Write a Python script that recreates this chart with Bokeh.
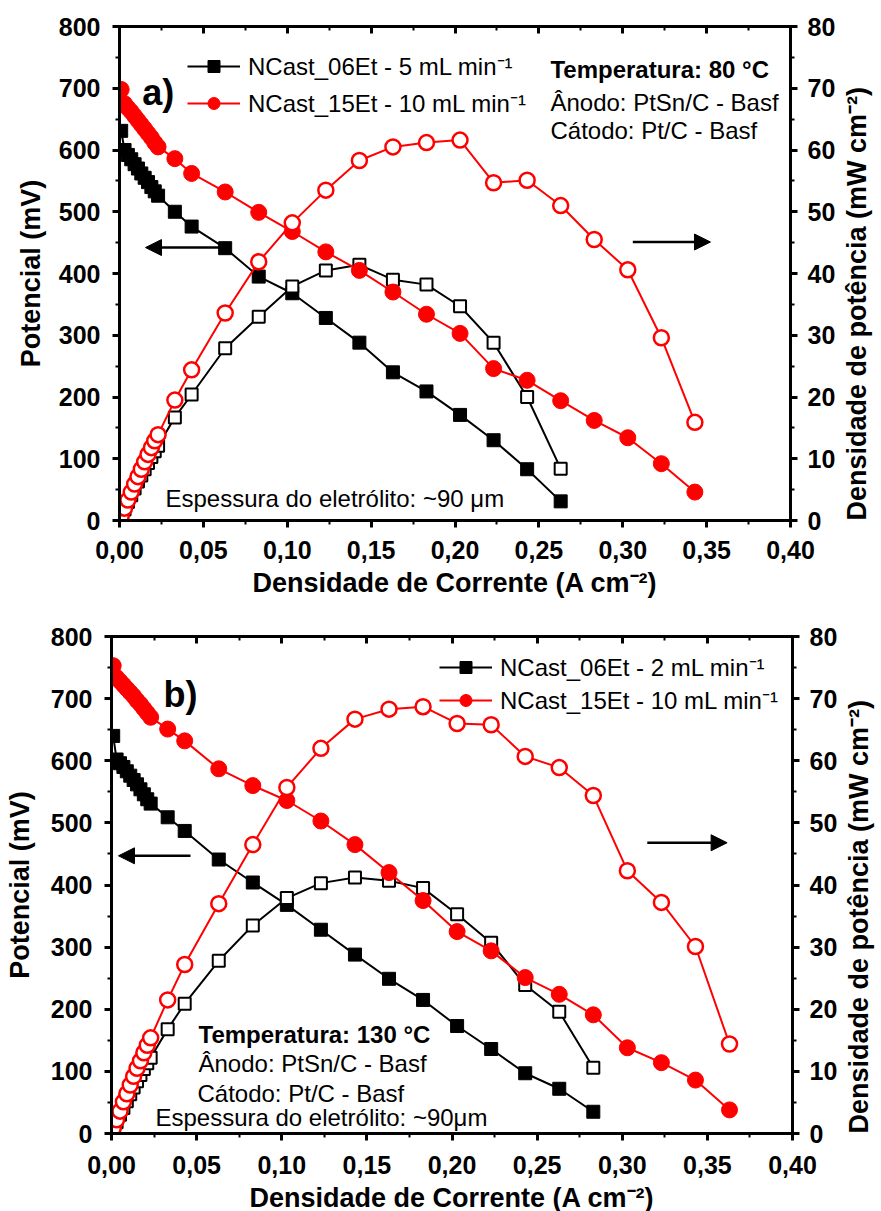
import math
from bokeh.plotting import figure
from bokeh.models import (Range1d, LinearAxis, SingleIntervalTicker, CustomJSTickFormatter,
                          Label, Arrow, NormalHead, Legend, LegendItem)
from bokeh.embed import file_html
from bokeh.resources import INLINE

FONT = "Liberation Sans"
RED = "#ff0000"

# ---------------- Panel a) data ----------------
a_x_06 = [0.001, 0.003, 0.005, 0.007, 0.009, 0.011, 0.013, 0.015, 0.017, 0.019, 0.021, 0.023,
          0.033, 0.043, 0.063, 0.083, 0.103, 0.123, 0.143, 0.163, 0.183, 0.203, 0.223, 0.243, 0.263]
a_v_06 = [631, 600, 592, 585, 577, 570, 562, 555, 548, 540, 533, 526,
          500, 476, 441, 395, 368, 328, 288, 240, 209, 171, 130, 83, 31]
a_p_06 = [0.6, 1.8, 3.0, 4.1, 5.2, 6.3, 7.3, 8.3, 9.3, 10.3, 11.2, 12.1,
          16.7, 20.4, 27.9, 33.0, 37.9, 40.5, 41.4, 39.0, 38.2, 34.7, 28.8, 20.0, 8.4]

a_x_15 = [0.001, 0.003, 0.005, 0.007, 0.009, 0.011, 0.013, 0.015, 0.017, 0.019, 0.021, 0.023,
          0.033, 0.043, 0.063, 0.083, 0.103, 0.123, 0.143, 0.163, 0.183, 0.203, 0.223, 0.243,
          0.263, 0.283, 0.303, 0.323, 0.343]
a_v_15 = [698, 675, 668, 662, 655, 648, 641, 634, 627, 620, 612, 605,
          586, 562, 532, 499, 468, 435, 405, 370, 334, 303, 246, 227, 194, 162, 134, 92, 46]
a_p_15 = [0.7, 2.0, 3.3, 4.6, 5.9, 7.1, 8.3, 9.5, 10.7, 11.8, 12.9, 13.9,
          19.5, 24.4, 33.6, 41.9, 48.2, 53.5, 58.3, 60.5, 61.2, 61.6, 54.7, 55.1, 51.0, 45.5,
          40.6, 29.6, 15.9]

a_labels = ["NCast_06Et - 5 mL min\u207b\u00b9", "NCast_15Et - 10 mL min\u207b\u00b9"]
a_notes = ["Temperatura: 80 \u00b0C", "\u00c2nodo: PtSn/C - Basf", "C\u00e1todo: Pt/C - Basf",
           "Espessura do eletr\u00f3lito: ~90 \u03bcm"]

# ---------------- Panel b) data ----------------
b_x_06 = [0.001, 0.003, 0.005, 0.007, 0.009, 0.011, 0.013, 0.015, 0.017, 0.019, 0.021, 0.023,
          0.033, 0.043, 0.063, 0.083, 0.103, 0.123, 0.143, 0.163, 0.183, 0.203, 0.223, 0.243,
          0.263, 0.283]
b_v_06 = [640, 602, 596, 590, 583, 576, 569, 562, 554, 546, 538, 531,
          509, 487, 441, 404, 368, 328, 288, 249, 215, 173, 136, 97, 72, 35]
b_p_06 = [0.6, 1.8, 3.0, 4.1, 5.2, 6.3, 7.4, 8.4, 9.4, 10.4, 11.3, 12.2,
          16.8, 20.9, 27.8, 33.5, 37.9, 40.3, 41.2, 40.7, 39.5, 35.3, 30.7, 23.9, 19.6, 10.6]

b_x_15 = [0.001, 0.003, 0.005, 0.007, 0.009, 0.011, 0.013, 0.015, 0.017, 0.019, 0.021, 0.023,
          0.033, 0.043, 0.063, 0.083, 0.103, 0.123, 0.143, 0.163, 0.183, 0.203, 0.223, 0.243,
          0.263, 0.283, 0.303, 0.323, 0.343, 0.363]
b_v_15 = [753, 734, 728, 722, 716, 710, 704, 697, 691, 684, 677, 670,
          651, 632, 587, 560, 536, 503, 465, 420, 375, 325, 294, 251, 224, 191, 138, 114, 86, 38]
b_p_15 = [0.8, 2.2, 3.6, 5.1, 6.4, 7.8, 9.2, 10.5, 11.7, 13.0, 14.2, 15.4,
          21.5, 27.2, 37.0, 46.5, 55.7, 62.0, 66.7, 68.3, 68.7, 66.0, 65.8, 60.7, 58.9, 54.4,
          42.3, 37.2, 30.1, 14.4]

b_labels = ["NCast_06Et - 2 mL min\u207b\u00b9", "NCast_15Et - 10 mL min\u207b\u00b9"]
b_notes = ["Temperatura: 130 \u00b0C", "\u00c2nodo: PtSn/C - Basf", "C\u00e1todo: Pt/C - Basf",
           "Espessura do eletr\u00f3lito: ~90\u03bcm"]

X_TITLE = "Densidade de Corrente (A cm\u207b\u00b2)"
YL_TITLE = "Potencial (mV)"
YR_TITLE = "Densidade de pot\u00eancia (mW cm\u207b\u00b2)"


def style_axis(ax, ticks_out=True, label_standoff=10, title_standoff=6):
    ax.axis_line_width = 3
    ax.major_tick_line_width = 3
    ax.minor_tick_line_width = 2
    if ticks_out:
        ax.major_tick_out, ax.major_tick_in = 7, 0
        ax.minor_tick_out, ax.minor_tick_in = 4, 0
    else:
        ax.major_tick_out, ax.major_tick_in = 0, 7
        ax.minor_tick_out, ax.minor_tick_in = 0, 4
    ax.major_label_text_font = FONT
    ax.major_label_text_font_style = "bold"
    ax.major_label_text_font_size = "25px"
    ax.major_label_text_color = "black"
    ax.axis_label_text_font = FONT
    ax.axis_label_text_font_style = "bold"
    ax.axis_label_text_font_size = "27px"
    ax.axis_label_text_color = "black"
    ax.major_label_standoff = label_standoff
    ax.axis_label_standoff = title_standoff


def make_panel(fw, fh, bl, br, bt, bb, std, data, labels, legend_loc, legend_spacing, letter,
               letter_pos, notes, note_pos, arrows):
    p = figure(output_backend="svg", toolbar_location=None,
               x_range=Range1d(0, 0.40), y_range=Range1d(0, 800),
               frame_width=fw, frame_height=fh,
               min_border_left=bl, min_border_right=br, min_border_top=bt, min_border_bottom=bb)
    p.extra_y_ranges = {"P": Range1d(0, 80)}
    p.xgrid.visible = False
    p.ygrid.visible = False
    p.outline_line_color = "black"
    p.outline_line_width = 3
    p.background_fill_color = "white"
    p.border_fill_color = "white"

    xa = p.xaxis[0]
    xa.ticker = SingleIntervalTicker(interval=0.05, num_minor_ticks=2)
    xa.formatter = CustomJSTickFormatter(code="return tick.toFixed(2).replace('.', ',');")
    xa.axis_label = X_TITLE
    style_axis(xa, label_standoff=std[0], title_standoff=std[1])

    ya = p.yaxis[0]
    ya.ticker = SingleIntervalTicker(interval=100, num_minor_ticks=2)
    ya.axis_label = YL_TITLE
    style_axis(ya, label_standoff=std[2], title_standoff=std[3])

    ra = LinearAxis(y_range_name="P", axis_label=YR_TITLE,
                    ticker=SingleIntervalTicker(interval=10, num_minor_ticks=2))
    style_axis(ra, label_standoff=std[4], title_standoff=std[5])
    ra.axis_label_orientation = math.pi / 2
    ra.axis_label_align = "start"
    p.add_layout(ra, "right")

    ta = LinearAxis(ticker=SingleIntervalTicker(interval=0.05, num_minor_ticks=2),
                    formatter=CustomJSTickFormatter(code="return '';"))
    style_axis(ta, ticks_out=False)
    p.add_layout(ta, "above")

    (x06, v06, p06), (x15, v15, p15) = data
    l1 = p.line(x06, v06, line_color="black", line_width=2)
    s1 = p.scatter(x06, v06, marker="square", size=13, fill_color="black", line_color="black")
    p.line(x06, p06, line_color="black", line_width=2, y_range_name="P")
    p.scatter(x06, p06, marker="square", size=12, fill_color="white", line_color="black",
              line_width=2, y_range_name="P")
    l2 = p.line(x15, v15, line_color=RED, line_width=2)
    s2 = p.scatter(x15, v15, marker="circle", size=16, fill_color=RED, line_color=RED)
    p.line(x15, p15, line_color=RED, line_width=2, y_range_name="P")
    p.scatter(x15, p15, marker="circle", size=15, fill_color="white", line_color=RED,
              line_width=2.5, y_range_name="P")

    legend = Legend(items=[LegendItem(label=labels[0], renderers=[l1, s1]),
                           LegendItem(label=labels[1], renderers=[l2, s2])],
                    location=legend_loc, glyph_width=53, glyph_height=30, label_height=30,
                    label_standoff=8, spacing=legend_spacing,
                    padding=0, margin=0, border_line_color=None, background_fill_alpha=0,
                    label_text_font=FONT, label_text_font_size="24px", label_text_color="black")
    p.add_layout(legend)

    p.add_layout(Label(x=letter_pos[0], y=letter_pos[1], text=letter, text_font=FONT,
                       text_font_style="bold", text_font_size="36px", text_color="black",
                       text_baseline="alphabetic"))
    for t, (nx, ny), bold in zip(notes, note_pos, [True, False, False, False]):
        p.add_layout(Label(x=nx, y=ny, text=t, text_font=FONT,
                           text_font_style="bold" if bold else "normal",
                           text_font_size="24px", text_color="black",
                           text_baseline="alphabetic"))
    for (x0, x1, yy) in arrows:
        p.add_layout(Arrow(end=NormalHead(size=16, fill_color="black", line_color="black"),
                           x_start=x0, y_start=yy, x_end=x1, y_end=yy,
                           line_color="black", line_width=2.5))
    return p


pa = make_panel(671, 494, 119, 88, 26, 100, (13, 6, 12, 10, 10, 19),
                [(a_x_06, a_v_06, a_p_06), (a_x_15, a_v_15, a_p_15)],
                a_labels, (68, 401), 4, "a)", (0.0135, 693),
                a_notes, [(0.2569, 730), (0.2569, 677), (0.2569, 632), (0.0274, 35)],
                [(0.0662, 0.0155, 442), (0.306, 0.3523, 451)])

pb = make_panel(681, 497, 111, 86, 16, 78, (15, 6, 12, 13, 10, 19),
                [(b_x_06, b_v_06, b_p_06), (b_x_15, b_v_15, b_p_15)],
                b_labels, (328, 417), 0, "b)", (0.0305, 707),
                b_notes, [(0.0511, 160), (0.0511, 112), (0.0505, 64), (0.0258, 25)],
                [(0.0464, 0.0041, 447), (0.3147, 0.3616, 468)])

open("out.html", "w").write(file_html([pa, pb], INLINE))
